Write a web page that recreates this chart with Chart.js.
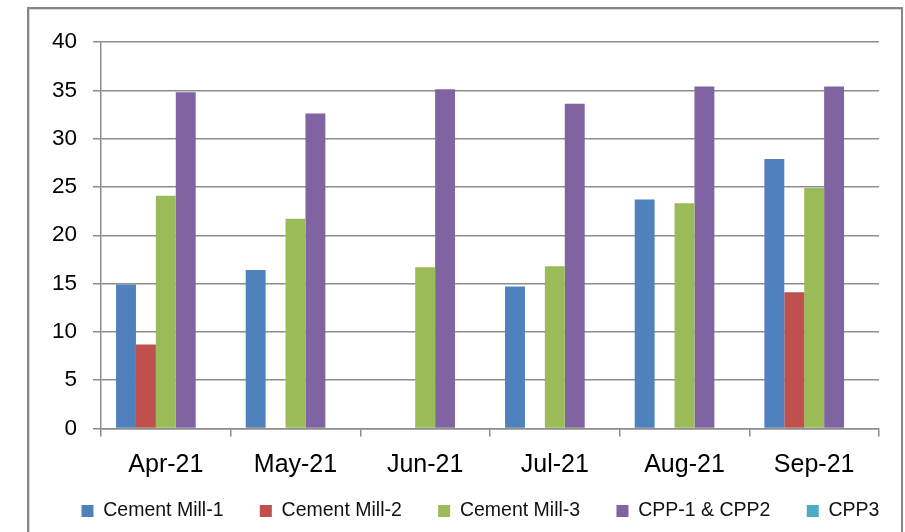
<!DOCTYPE html>
<html><head><meta charset="utf-8">
<script src="https://cdn.jsdelivr.net/npm/chart.js@4.4.1/dist/chart.umd.min.js"></script>
<style>
html,body{margin:0;padding:0;background:#fff;overflow:hidden;width:905px;height:532px}
#wrap{position:absolute;left:0;top:0;width:905px;height:532px}
#frame{position:absolute;left:27px;top:7px;width:872px;height:600px;border:2px solid #868686;pointer-events:none;box-shadow:inset 1px 1px 0 #d8d8d8}
</style></head><body>
<div id="wrap"><canvas id="c" width="905" height="532"></canvas></div>
<div id="frame"></div>
<script>
const categories = ['Apr-21', 'May-21', 'Jun-21', 'Jul-21', 'Aug-21', 'Sep-21'];
const seriesNames = ['Cement Mill-1', 'Cement Mill-2', 'Cement Mill-3', 'CPP-1 & CPP2', 'CPP3'];
const cementMill1 = [14.9, 16.4, 0, 14.7, 23.7, 27.9];
const cementMill2 = [8.7, 0, 0, 0, 0, 14.1];
const cementMill3 = [24.1, 21.7, 16.7, 16.8, 23.3, 24.9];
const cpp1and2 = [34.8, 32.6, 35.1, 33.6, 35.4, 35.4];
const cpp3 = [0, 0, 0, 0, 0, 0];
const yMin = 0, yMax = 40, yStep = 5;

const colors = ['#4F81BD', '#C0504D', '#9BBB59', '#8064A2', '#4BACC6'];
const values = [cementMill1, cementMill2, cementMill3, cpp1and2, cpp3];

Chart.defaults.font.family = "'Liberation Sans', Arial, sans-serif";
Chart.defaults.color = '#000';

const gridColor = '#8c8c8c';
const legendStartX = 81.5;

const layoutFix = {
  id: 'layoutFix',
  afterLayout(chart) {
    // let x tick labels extend below the axis box without being clipped
    chart.scales.x.bottom = chart.height;
    // place the legend row so that it starts at legendStartX
    const lg = chart.legend;
    if (lg && lg.lineWidths) {
      const p = lg.options.labels.padding;
      const lw = lg.lineWidths[0];
      lg.right = chart.width + 400;
      lg.left = 2 * legendStartX - p + lw - lg.right;
    }
  }
};

new Chart(document.getElementById('c'), {
  type: 'bar',
  data: {
    labels: categories,
    datasets: values.map((v, i) => ({
      label: seriesNames[i],
      data: v,
      backgroundColor: colors[i],
      borderWidth: 0,
      barPercentage: 1,
      categoryPercentage: 0.768
    }))
  },
  plugins: [layoutFix],
  options: {
    responsive: false,
    animation: false,
    devicePixelRatio: 1,
    layout: { padding: { left: 0, right: 26, top: 42, bottom: 1.25 } },
    plugins: {
      legend: {
        position: 'bottom',
        labels: {
          boxWidth: 12,
          boxHeight: 12,
          padding: 36.3,
          color: '#111',
          font: { size: 19.5 }
        }
      },
      tooltip: { enabled: false }
    },
    scales: {
      x: {
        afterFit: s => { s.height = 36.45; },
        grid: {
          offset: true,
          drawOnChartArea: false,
          drawTicks: true,
          tickLength: 8,
          color: gridColor,
          lineWidth: 1.5
        },
        border: { display: true, color: gridColor, width: 1.5 },
        ticks: { padding: 13.5, font: { size: 25 }, color: '#000' }
      },
      y: {
        min: yMin,
        max: yMax,
        afterFit: s => { s.width = 101; },
        grid: {
          drawTicks: true,
          tickLength: 8,
          color: gridColor,
          lineWidth: 1.5
        },
        border: { display: true, color: gridColor, width: 1.5 },
        ticks: { stepSize: yStep, padding: 16, font: { size: 22.5 }, color: '#000' }
      }
    }
  }
});
</script>
</body></html>
